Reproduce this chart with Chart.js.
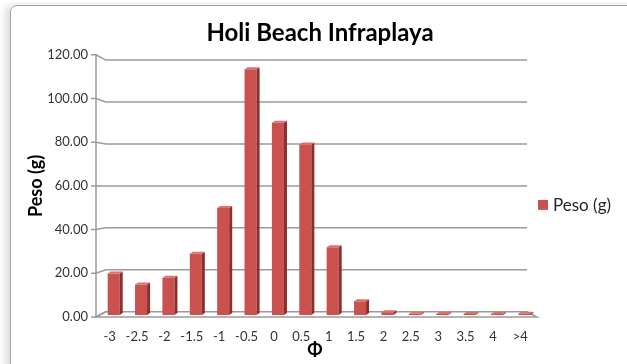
<!DOCTYPE html>
<html>
<head>
<meta charset="utf-8">
<script src="https://cdn.jsdelivr.net/npm/chart.js@4.4.1/dist/chart.umd.min.js"></script>
<style>
  html, body { margin: 0; padding: 0; background: #fff; overflow: hidden; }
  #wrap { position: relative; width: 627px; height: 364px; }
  #frame {
    position: absolute; left: 10px; top: 5px; width: 680px; height: 420px;
    border: 1.5px solid #a3a3a3; border-radius: 7px;
    box-shadow: -5px 0 7px rgba(0,0,0,0.13);
  }
  canvas { position: absolute; left: 0; top: 0; }
</style>
</head>
<body>
<div id="wrap">
  <div id="frame"></div>
  <canvas id="ch" width="627" height="364"></canvas>
</div>
<script>
/* Holi Beach Infraplaya — peso por clase phi */

const CATEGORIAS = ['-3', '-2.5', '-2', '-1.5', '-1', '-0.5', '0', '0.5', '1', '1.5', '2', '2.5', '3', '3.5', '4', '>4'];
const PESO       = [19, 14, 17, 28, 49, 112.5, 88, 78, 31, 6.3, 1.3, 0.6, 0.5, 0.5, 0.5, 0.6];
const Y_TICKS    = [0, 20, 40, 60, 80, 100, 120];

const ROJO      = '#c9514e';
const ROJO_LADO = '#8c2f2c';
const ROJO_TOPE = '#d9716e';
const GRIS      = '#9a9a9a';
const FUENTE    = 'Lato, "Open Sans", sans-serif';

// desplazamiento de las barras (pseudo 3D)
const DX = 4, DY = -2, PROF = 3;

// pared del fondo, suelo y rejilla con perspectiva
const pared3d = {
  id: 'pared3d',
  beforeDatasetsDraw(chart) {
    const { ctx, chartArea: a, scales: { y } } = chart;
    const cx = (a.left + a.right) / 2, cy = (a.top + a.bottom) / 2;
    const bx = v => cx + (v - cx) * 0.955;
    const by = v => cy + (v - cy) * 0.96;
    const der = a.right + 3;

    ctx.save();
    ctx.strokeStyle = GRIS;
    ctx.lineWidth = 1.5;

    // suelo
    ctx.beginPath();
    ctx.moveTo(a.left, a.bottom);
    ctx.lineTo(der, a.bottom);
    ctx.lineTo(bx(der), by(a.bottom));
    ctx.lineTo(bx(a.left), by(a.bottom));
    ctx.closePath();
    ctx.fillStyle = '#fff';
    ctx.fill();
    ctx.stroke();

    // eje vertical
    ctx.beginPath();
    ctx.moveTo(a.left, a.top);
    ctx.lineTo(a.left, a.bottom);
    ctx.stroke();

    // marcas + rejilla
    y.ticks.forEach(t => {
      const py = y.getPixelForValue(t.value);
      ctx.beginPath();
      ctx.moveTo(a.left - 5, py);
      ctx.lineTo(a.left, py);
      ctx.lineTo(bx(a.left), by(py));
      if (t.value !== 0) ctx.lineTo(bx(der), by(py));
      ctx.stroke();
    });
    ctx.restore();

    ctx.save();
    ctx.translate(DX, DY);
  },
  afterDatasetsDraw(chart) {
    const { ctx } = chart;
    chart.getDatasetMeta(0).data.forEach(bar => {
      const { x, y, base, width } = bar.getProps(['x', 'y', 'base', 'width'], true);
      const r = x + width / 2, l = x - width / 2;
      // lado
      ctx.beginPath();
      ctx.moveTo(r, y);
      ctx.lineTo(r + PROF, y - 2);
      ctx.lineTo(r + PROF, base - 2);
      ctx.lineTo(r, base);
      ctx.closePath();
      ctx.fillStyle = ROJO_LADO;
      ctx.fill();
      // tope
      ctx.beginPath();
      ctx.moveTo(l, y);
      ctx.lineTo(l + PROF, y - 2);
      ctx.lineTo(r + PROF, y - 2);
      ctx.lineTo(r, y);
      ctx.closePath();
      ctx.fillStyle = ROJO_TOPE;
      ctx.fill();
    });
    ctx.restore();
  }
};

// leyenda a la derecha
const leyenda = {
  id: 'leyenda',
  afterDraw(chart) {
    const { ctx, chartArea: a } = chart;
    const ds = chart.data.datasets[0];
    const yc = (a.top + a.bottom) / 2 + 19;
    ctx.save();
    ctx.fillStyle = ds.backgroundColor;
    ctx.fillRect(a.right + 4, yc - 5, 10, 10);
    ctx.fillStyle = '#262626';
    ctx.font = '17px ' + FUENTE;
    ctx.textBaseline = 'middle';
    ctx.fillText(ds.label, a.right + 19, yc + 1);
    ctx.restore();
  }
};

new Chart(document.getElementById('ch'), {
  type: 'bar',
  data: {
    labels: CATEGORIAS,
    datasets: [{
      label: 'Peso (g)',
      data: PESO,
      backgroundColor: ROJO,
      borderWidth: 0,
      categoryPercentage: 1,
      barPercentage: 0.44,
    }],
  },
  options: {
    responsive: false,
    animation: false,
    devicePixelRatio: 1,
    layout: { padding: { left: 13, right: 0, top: 0, bottom: 0 } },
    plugins: {
      legend: { display: false },
      tooltip: { enabled: false },
      title: {
        display: true,
        text: 'Holi Beach Infraplaya',
        color: '#000',
        font: { family: FUENTE, size: 24, weight: 'bold' },
        padding: { top: 19, bottom: 7 },
      },
    },
    scales: {
      x: {
        grid: { display: false, drawTicks: false },
        border: { display: false },
        ticks: { color: '#333', font: { family: FUENTE, size: 13 }, padding: 12, maxRotation: 0, autoSkip: false },
        title: { display: true, text: 'Φ', color: '#000', font: { family: FUENTE, size: 18, weight: 'bold' }, padding: { top: 0, bottom: 3 } },
        afterFit: s => { s.height = 47; },
      },
      y: {
        min: 0,
        max: 120,
        afterBuildTicks: s => { s.ticks = Y_TICKS.map(v => ({ value: v })); },
        grid: { display: false, drawTicks: false },
        border: { display: false },
        ticks: { color: '#333', font: { family: FUENTE, size: 13 }, padding: 8, callback: v => v.toFixed(2) },
        title: { display: true, text: 'Peso (g)', color: '#000', font: { family: FUENTE, size: 18, weight: 'bold' }, padding: { top: 12, bottom: 0 } },
        afterFit: s => { s.width = 83; },
      },
      // hueco para la leyenda
      lado: {
        position: 'right',
        min: 0,
        max: 120,
        grid: { display: false, drawTicks: false },
        border: { display: false },
        ticks: { display: false },
        afterFit: s => { s.width = 93; },
      },
    },
  },
  plugins: [pared3d, leyenda],
});
</script>
</body>
</html>
